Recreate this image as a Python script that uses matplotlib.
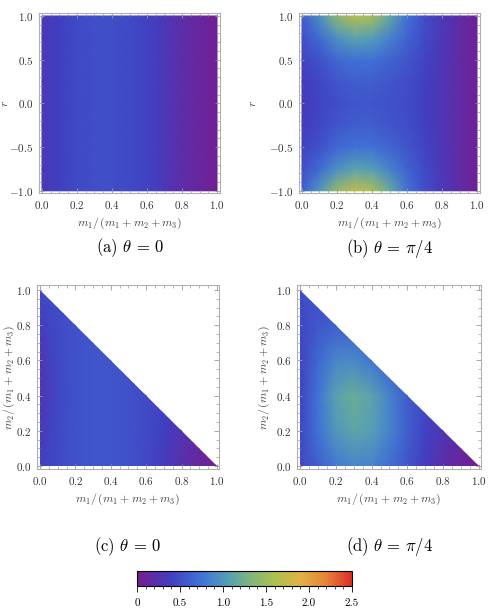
import numpy as np
import matplotlib
matplotlib.use('Agg')
import matplotlib.pyplot as plt
from matplotlib.colors import LinearSegmentedColormap
from matplotlib.patches import Polygon
from matplotlib.ticker import MultipleLocator, FormatStrFormatter

plt.rcParams['font.family'] = 'serif'
plt.rcParams['font.serif'] = ['cmr10', 'DejaVu Serif']
plt.rcParams['mathtext.fontset'] = 'cm'
plt.rcParams['axes.formatter.use_mathtext'] = True

# sample grid
x_vals = [0.0, 0.1, 0.2, 0.3, 0.4, 0.5, 0.6, 0.7, 0.8, 0.9, 1.0]
r_vals = [-1.0, -0.75, -0.5, -0.25, 0.0, 0.25, 0.5, 0.75, 1.0]
m2_vals = [0.0, 0.2, 0.4, 0.6, 0.8, 1.0]

# (a) theta = 0 : only depends on m1 fraction
profile_a = [0.33, 0.40, 0.47, 0.50, 0.50, 0.47, 0.42, 0.32, 0.20, 0.12, 0.04]

# (b) theta = pi/4 : rows follow r_vals
grid_b = [
    [0.62, 1.00, 1.45, 1.70, 1.60, 1.18, 0.76, 0.50, 0.33, 0.18, 0.05],
    [0.50, 0.70, 0.95, 1.10, 1.05, 0.85, 0.65, 0.47, 0.32, 0.18, 0.05],
    [0.42, 0.52, 0.68, 0.75, 0.74, 0.65, 0.55, 0.43, 0.31, 0.18, 0.05],
    [0.37, 0.45, 0.55, 0.60, 0.60, 0.55, 0.50, 0.41, 0.30, 0.18, 0.05],
    [0.35, 0.42, 0.50, 0.55, 0.55, 0.52, 0.48, 0.40, 0.30, 0.18, 0.05],
    [0.37, 0.45, 0.55, 0.60, 0.60, 0.55, 0.50, 0.41, 0.30, 0.18, 0.05],
    [0.42, 0.52, 0.68, 0.75, 0.74, 0.65, 0.55, 0.43, 0.31, 0.18, 0.05],
    [0.50, 0.70, 0.95, 1.10, 1.05, 0.85, 0.65, 0.47, 0.32, 0.18, 0.05],
    [0.60, 0.95, 1.40, 1.65, 1.55, 1.15, 0.75, 0.50, 0.33, 0.18, 0.05],
]

# (c) theta = 0 on the simplex : rows follow m2_vals
grid_c = [
    [0.40, 0.47, 0.52, 0.55, 0.55, 0.52, 0.46, 0.36, 0.24, 0.12, 0.03],
    [0.33, 0.46, 0.52, 0.55, 0.55, 0.52, 0.47, 0.40, 0.28, 0.15, 0.05],
    [0.30, 0.45, 0.52, 0.55, 0.55, 0.52, 0.48, 0.42, 0.30, 0.15, 0.05],
    [0.30, 0.46, 0.52, 0.55, 0.55, 0.52, 0.48, 0.42, 0.30, 0.15, 0.05],
    [0.38, 0.48, 0.52, 0.55, 0.55, 0.52, 0.48, 0.42, 0.30, 0.15, 0.05],
    [0.45, 0.50, 0.52, 0.55, 0.55, 0.52, 0.48, 0.42, 0.30, 0.15, 0.05],
]

# (d) theta = pi/4 on the simplex
grid_d = [
    [0.45, 0.62, 0.80, 0.88, 0.85, 0.72, 0.55, 0.38, 0.22, 0.10, 0.03],
    [0.45, 0.74, 1.00, 1.12, 1.06, 0.86, 0.62, 0.42, 0.28, 0.15, 0.05],
    [0.42, 0.76, 1.08, 1.20, 1.10, 0.85, 0.60, 0.45, 0.30, 0.15, 0.05],
    [0.42, 0.68, 0.88, 0.90, 0.78, 0.62, 0.50, 0.45, 0.30, 0.15, 0.05],
    [0.45, 0.56, 0.62, 0.62, 0.56, 0.50, 0.50, 0.45, 0.30, 0.15, 0.05],
    [0.50, 0.50, 0.50, 0.50, 0.50, 0.50, 0.50, 0.45, 0.30, 0.15, 0.05],
]

captions = [r'(a) $\theta\,=\,0$', r'(b) $\theta\,=\,\pi/4$',
            r'(c) $\theta\,=\,0$', r'(d) $\theta\,=\,\pi/4$']
cbar_ticks = [0, 0.5, 1.0, 1.5, 2.0, 2.5]
cbar_labels = ['0', '0.5', '1.0', '1.5', '2.0', '2.5']

# Mathematica-like "Rainbow" scheme
cmap = LinearSegmentedColormap.from_list('rainbow_m', [
    (0.00, (0.47, 0.11, 0.56)),
    (0.16, (0.25, 0.25, 0.76)),
    (0.30, (0.25, 0.45, 0.84)),
    (0.42, (0.33, 0.62, 0.72)),
    (0.52, (0.48, 0.71, 0.50)),
    (0.64, (0.68, 0.75, 0.32)),
    (0.76, (0.88, 0.70, 0.27)),
    (0.88, (0.90, 0.52, 0.22)),
    (1.00, (0.87, 0.18, 0.15)),
])
vmin, vmax = 0, 2.5

W, H = 488, 614
fig = plt.figure(figsize=(W / 100, H / 100), dpi=100)


def px_axes(left, top, right, bottom):
    return fig.add_axes([left / W, 1 - bottom / H, (right - left) / W, (bottom - top) / H])


def style(ax, ymajor, yminor):
    for s in ax.spines.values():
        s.set_color('#b0b0b0')
        s.set_linewidth(0.8)
    ax.tick_params(which='both', direction='in', top=True, right=True,
                   color='#999999', labelsize=8, labelcolor='#333333', pad=4)
    ax.tick_params(which='major', length=3.5, width=0.6)
    ax.tick_params(which='minor', length=2, width=0.5)
    ax.xaxis.set_major_locator(MultipleLocator(0.2))
    ax.xaxis.set_minor_locator(MultipleLocator(0.05))
    ax.yaxis.set_major_locator(MultipleLocator(ymajor))
    ax.yaxis.set_minor_locator(MultipleLocator(yminor))
    ax.xaxis.set_major_formatter(FormatStrFormatter(r'$%.1f$'))
    ax.yaxis.set_major_formatter(FormatStrFormatter(r'$%.1f$'))
    ax.set_xlabel(r'$m_1/\,(m_1+m_2+m_3)$', fontsize=8.5, color='#444444', labelpad=4)


# top row
ax_a = px_axes(39, 13, 220, 193)
ax_b = px_axes(299, 13, 480, 193)
Xr, Rr = np.meshgrid(x_vals, r_vals)
ax_a.pcolormesh(Xr, Rr, np.tile(profile_a, (len(r_vals), 1)), cmap=cmap,
                vmin=vmin, vmax=vmax, shading='gouraud')
ax_b.pcolormesh(Xr, Rr, np.array(grid_b), cmap=cmap, vmin=vmin, vmax=vmax,
                shading='gouraud')
for ax, lx in ((ax_a, -0.16), (ax_b, -0.225)):
    ax.set_xlim(-0.017, 1.017)
    ax.set_ylim(-1.025, 1.034)
    style(ax, 0.5, 0.1)
    ax.set_ylabel(r'$r$', fontsize=8.5, color='#444444')
    ax.yaxis.set_label_coords(lx, 0.5)

# bottom row
ax_c = px_axes(37, 285, 219, 469)
ax_d = px_axes(297, 285, 481, 469)
Xm, Ym = np.meshgrid(x_vals, m2_vals)
for ax, g, lx in ((ax_c, grid_c, -0.11), (ax_d, grid_d, -0.135)):
    mesh = ax.pcolormesh(Xm, Ym, np.array(g), cmap=cmap, vmin=vmin, vmax=vmax,
                         shading='gouraud')
    tri = Polygon([(0, 0), (1, 0), (0, 1)], closed=True, transform=ax.transData,
                  facecolor='none', edgecolor='none')
    ax.add_patch(tri)
    mesh.set_clip_path(tri)
    ax.set_xlim(-0.017, 1.012)
    ax.set_ylim(-0.017, 1.028)
    style(ax, 0.2, 0.05)
    ax.set_ylabel(r'$m_2/\,(m_1+m_2+m_3)$', fontsize=8.5, color='#444444')
    ax.yaxis.set_label_coords(lx, 0.5)

# captions
for ax, cap in zip((ax_a, ax_b, ax_c, ax_d), captions):
    bb = ax.get_position()
    ycap = 248 if ax in (ax_a, ax_b) else 547
    fig.text(bb.x0 + bb.width / 2, 1 - ycap / H, cap, ha='center', va='center',
             fontsize=12)

# colorbar
cax = px_axes(137, 571, 352, 586)
sm = matplotlib.cm.ScalarMappable(cmap=cmap, norm=matplotlib.colors.Normalize(vmin, vmax))
cb = fig.colorbar(sm, cax=cax, orientation='horizontal')
cb.set_ticks(cbar_ticks)
cb.set_ticklabels(cbar_labels)
cb.ax.xaxis.set_minor_locator(MultipleLocator(0.1))
cb.outline.set_linewidth(0.8)
cb.ax.tick_params(which='major', length=4, width=0.6, labelsize=8, pad=5)
cb.ax.tick_params(which='minor', length=2.5, width=0.5)

fig.savefig('out.png', dpi=100)
